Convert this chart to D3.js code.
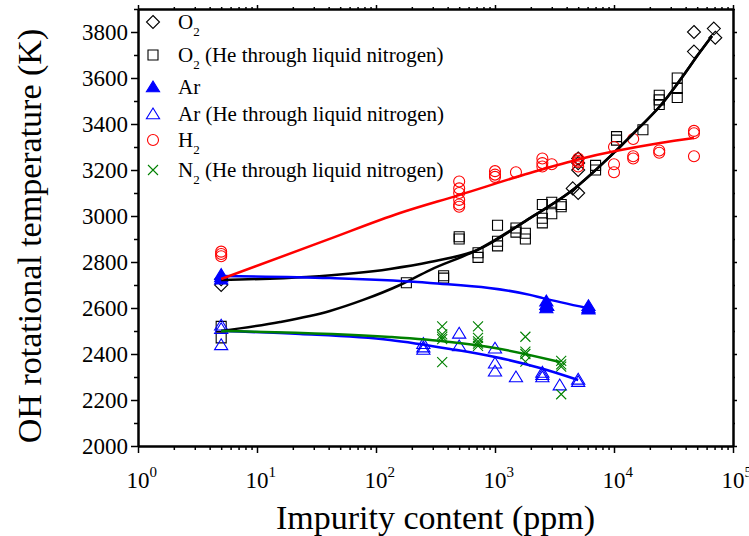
<!DOCTYPE html>
<html>
<head>
<meta charset="utf-8">
<script src="https://cdn.jsdelivr.net/npm/d3@7"></script>
<style>
body{margin:0;background:#fff;}
svg text{font-family:"Liberation Serif","Times New Roman",serif;fill:#000;}
</style>
</head>
<body>
<svg id="chart" width="749" height="536"></svg>
<script>
// data (ppm, K)
var o2X=[5,5,4500,5000,5000,5000,5000,47000,47000,69000,71000];
var o2Y=[2725,2700,3120,3250,3230,3200,3100,3800,3715,3815,3775];

var o2HeX=[5,5,180,370,370,500,500,720,720,1050,1050,1050,1500,1500,1800,1800,2500,2500,2500,3000,3000,3600,3600,7000,7000,10500,10500,17500,24000,24000,24000,34000,34000,34000];
var o2HeY=[2520,2470,2710,2740,2730,2900,2910,2820,2840,2960,2890,2870,2948,2930,2925,2900,3050,2990,2970,3060,3010,3050,3040,3220,3200,3345,3330,3375,3525,3505,3485,3600,3555,3515];

var arX=[5,5,5,2700,2700,2700,2750,6100,6100,6100];
var arY=[2745,2735,2725,2630,2615,2600,2610,2610,2600,2595];

var arHeX=[5,5,5,250,250,250,500,500,1000,1000,1000,1500,2500,2500,2500,3500,5000,5000];
var arHeY=[2525,2510,2440,2445,2430,2420,2490,2435,2425,2360,2325,2300,2320,2310,2300,2265,2290,2280];

var h2X=[5,5,5,500,500,500,500,500,500,1000,1000,1000,1500,2500,2500,2500,3000,5000,5000,5000,5000,10000,10000,10000,14500,14500,14500,24000,24000,47000,47000,47000];
var h2Y=[2845,2835,2825,3150,3120,3100,3070,3050,3040,3195,3180,3170,3190,3250,3230,3215,3225,3250,3240,3235,3215,3300,3225,3190,3335,3260,3250,3285,3275,3370,3360,3260];

var n2X=[360,360,360,360,360,720,720,720,720,720,1800,1800,1800,1800,3600,3600,3600,3600];
var n2Y=[2520,2485,2474,2465,2365,2520,2470,2455,2445,2435,2475,2410,2400,2367,2370,2355,2345,2225];

// fitted curves
var o2FitX=[5,26,131,284,706,1968,4270,11200,16500,24400,35900,52800,66600];
var o2FitY=[2722,2735,2770,2800,2852,2991,3104,3300,3387,3478,3591,3713,3783];
var o2HeFitX=[5,15.6,41,78,159,284,706,1968,4270,11200,16500,24400,35900,52800,66600];
var o2HeFitY=[2500,2539,2587,2635,2700,2765,2852,2991,3104,3300,3387,3478,3591,3713,3783];
var arFitX=[5,41,284,1968,2530,5930];
var arFitY=[2739,2730,2709,2657,2643,2600];
var arHeFitX=[5,23,131,419,1000,2390,5000];
var arHeFitY=[2500,2487,2461,2422,2387,2339,2287];
var h2FitX=[5,38.7,159,498,1968,5180,24400,47000];
var h2FitY=[2726,2896,3013,3091,3187,3248,3317,3339];
var n2FitX=[5,131,419,1000,3520];
var n2FitY=[2500,2474,2452,2426,2365];

var xTicks=[1,10,100,1000,10000,100000];
var xExp=["0","1","2","3","4","5"];
var yTicks=[2000,2200,2400,2600,2800,3000,3200,3400,3600,3800];

var svg=d3.select("#chart");
var L=138,R=733,T=9,B=446;
var x=d3.scaleLog().domain([1,1e5]).range([L,R]);
var y=d3.scaleLinear().domain([2000,3900]).range([B,T]);

var minorX=[];
for(var d=1;d<1e5;d*=10){
    for(var k=2;k<10;k++) minorX.push(d*k);
}
var minorY=d3.range(2100,3901,200);

function styleAxis(g){
    g.selectAll("path").attr("stroke","#000").attr("stroke-width",2);
    g.selectAll("line").attr("stroke","#000").attr("stroke-width",1.5);
}

// bottom
svg.append("g").attr("transform","translate(0,"+B+")")
    .call(d3.axisBottom(x).tickValues(xTicks).tickSize(7).tickFormat("").tickSizeOuter(0)).call(styleAxis);
svg.append("g").attr("transform","translate(0,"+B+")")
    .call(d3.axisBottom(x).tickValues(minorX).tickSize(4).tickFormat("").tickSizeOuter(0)).call(styleAxis);
// top
svg.append("g").attr("transform","translate(0,"+T+")")
    .call(d3.axisTop(x).tickValues(xTicks).tickSize(4).tickFormat("").tickSizeOuter(0)).call(styleAxis);
svg.append("g").attr("transform","translate(0,"+T+")")
    .call(d3.axisTop(x).tickValues(minorX).tickSize(2).tickFormat("").tickSizeOuter(0)).call(styleAxis);
// left
svg.append("g").attr("transform","translate("+L+",0)")
    .call(d3.axisLeft(y).tickValues(yTicks).tickSize(7).tickFormat("").tickSizeOuter(0)).call(styleAxis);
svg.append("g").attr("transform","translate("+L+",0)")
    .call(d3.axisLeft(y).tickValues(minorY).tickSize(4).tickFormat("").tickSizeOuter(0)).call(styleAxis);
// right
svg.append("g").attr("transform","translate("+R+",0)")
    .call(d3.axisRight(y).tickValues(yTicks).tickSize(4).tickFormat("").tickSizeOuter(0)).call(styleAxis);
svg.append("g").attr("transform","translate("+R+",0)")
    .call(d3.axisRight(y).tickValues(minorY).tickSize(2).tickFormat("").tickSizeOuter(0)).call(styleAxis);

// tick labels
svg.selectAll(".ylab").data(yTicks).enter().append("text")
    .attr("x",L-10).attr("y",function(d){return y(d)+8;})
    .attr("text-anchor","end").attr("font-size",23)
    .text(function(d){return d;});

var xl=svg.selectAll(".xlab").data(xTicks).enter().append("text")
    .attr("x",function(d){return x(d)-11.5;}).attr("y",488)
    .attr("text-anchor","start").attr("font-size",23);
xl.append("tspan").text("10");
xl.append("tspan").attr("dy",-11).attr("font-size",15).text(function(d,i){return xExp[i];});

// axis titles
svg.append("text").attr("x",(L+R)/2).attr("y",529).attr("text-anchor","middle")
    .attr("font-size",34).text("Impurity content (ppm)");
svg.append("text").attr("transform","translate(41,236) rotate(-90)")
    .attr("text-anchor","middle").attr("font-size",34).text("OH rotational temperature (K)");

// markers
function diamond(s){return "M0,"+(-s)+"L"+s+",0L0,"+s+"L"+(-s)+",0Z";}
function square(s){return "M"+(-s)+","+(-s)+"h"+(2*s)+"v"+(2*s)+"h"+(-2*s)+"Z";}
function tri(s){return "M0,"+(-s)+"L"+(s*1.1)+","+(s*0.8)+"L"+(-s*1.1)+","+(s*0.8)+"Z";}
function cross(s){return "M"+(-s)+","+(-s)+"L"+s+","+s+"M"+(-s)+","+s+"L"+s+","+(-s);}
function circ(s){return "M"+s+",0A"+s+","+s+" 0 1,1 "+(-s)+",0A"+s+","+s+" 0 1,1 "+s+",0Z";}

var series=[
    {xs:o2X,ys:o2Y,path:diamond(6.5),stroke:"#000",fill:"none"},
    {xs:o2HeX,ys:o2HeY,path:square(5),stroke:"#000",fill:"none"},
    {xs:arX,ys:arY,path:tri(6),stroke:"#0000ff",fill:"#0000ff"},
    {xs:arHeX,ys:arHeY,path:tri(6),stroke:"#0000ff",fill:"none"},
    {xs:h2X,ys:h2Y,path:circ(5.5),stroke:"#ff0000",fill:"none"},
    {xs:n2X,ys:n2Y,path:cross(5),stroke:"#008000",fill:"none"}
];

series.forEach(function(s){
    svg.append("g").selectAll("path").data(s.xs).enter().append("path")
        .attr("d",s.path)
        .attr("transform",function(d,i){return "translate("+x(d)+","+y(s.ys[i])+")";})
        .attr("stroke",s.stroke).attr("stroke-width",1.1).attr("fill",s.fill);
});

// fit lines
var fits=[
    {xs:o2FitX,ys:o2FitY,color:"#000"},
    {xs:o2HeFitX,ys:o2HeFitY,color:"#000"},
    {xs:arFitX,ys:arFitY,color:"#0000ff"},
    {xs:arHeFitX,ys:arHeFitY,color:"#0000ff"},
    {xs:n2FitX,ys:n2FitY,color:"#008000"},
    {xs:h2FitX,ys:h2FitY,color:"#ff0000"}
];
var line=d3.line().curve(d3.curveMonotoneX)
    .x(function(d){return x(d[0]);}).y(function(d){return y(d[1]);});
fits.forEach(function(f){
    svg.append("path").datum(d3.zip(f.xs,f.ys))
        .attr("d",line).attr("fill","none")
        .attr("stroke",f.color).attr("stroke-width",2.5);
});

// legend
var legend=[
    {path:diamond(6.5),stroke:"#000",fill:"none",main:"O",sub:"2",rest:"",y:22},
    {path:square(5),stroke:"#000",fill:"none",main:"O",sub:"2",rest:" (He through liquid nitrogen)",y:55},
    {path:tri(6),stroke:"#0000ff",fill:"#0000ff",main:"Ar",sub:"",rest:"",y:87},
    {path:tri(6),stroke:"#0000ff",fill:"none",main:"Ar (He through liquid nitrogen)",sub:"",rest:"",y:114},
    {path:circ(5.5),stroke:"#ff0000",fill:"none",main:"H",sub:"2",rest:"",y:140},
    {path:cross(5),stroke:"#008000",fill:"none",main:"N",sub:"2",rest:" (He through liquid nitrogen)",y:170}
];
legend.forEach(function(l){
    svg.append("path").attr("d",l.path)
        .attr("transform","translate(153,"+l.y+")")
        .attr("stroke",l.stroke).attr("stroke-width",1.1).attr("fill",l.fill);
    var t=svg.append("text").attr("x",178).attr("y",l.y+7).attr("font-size",21);
    t.append("tspan").text(l.main);
    if(l.sub){
        t.append("tspan").attr("dy",7).attr("font-size",13).text(l.sub);
        t.append("tspan").attr("dy",-7).text(l.rest);
    }
});
</script>
</body>
</html>
